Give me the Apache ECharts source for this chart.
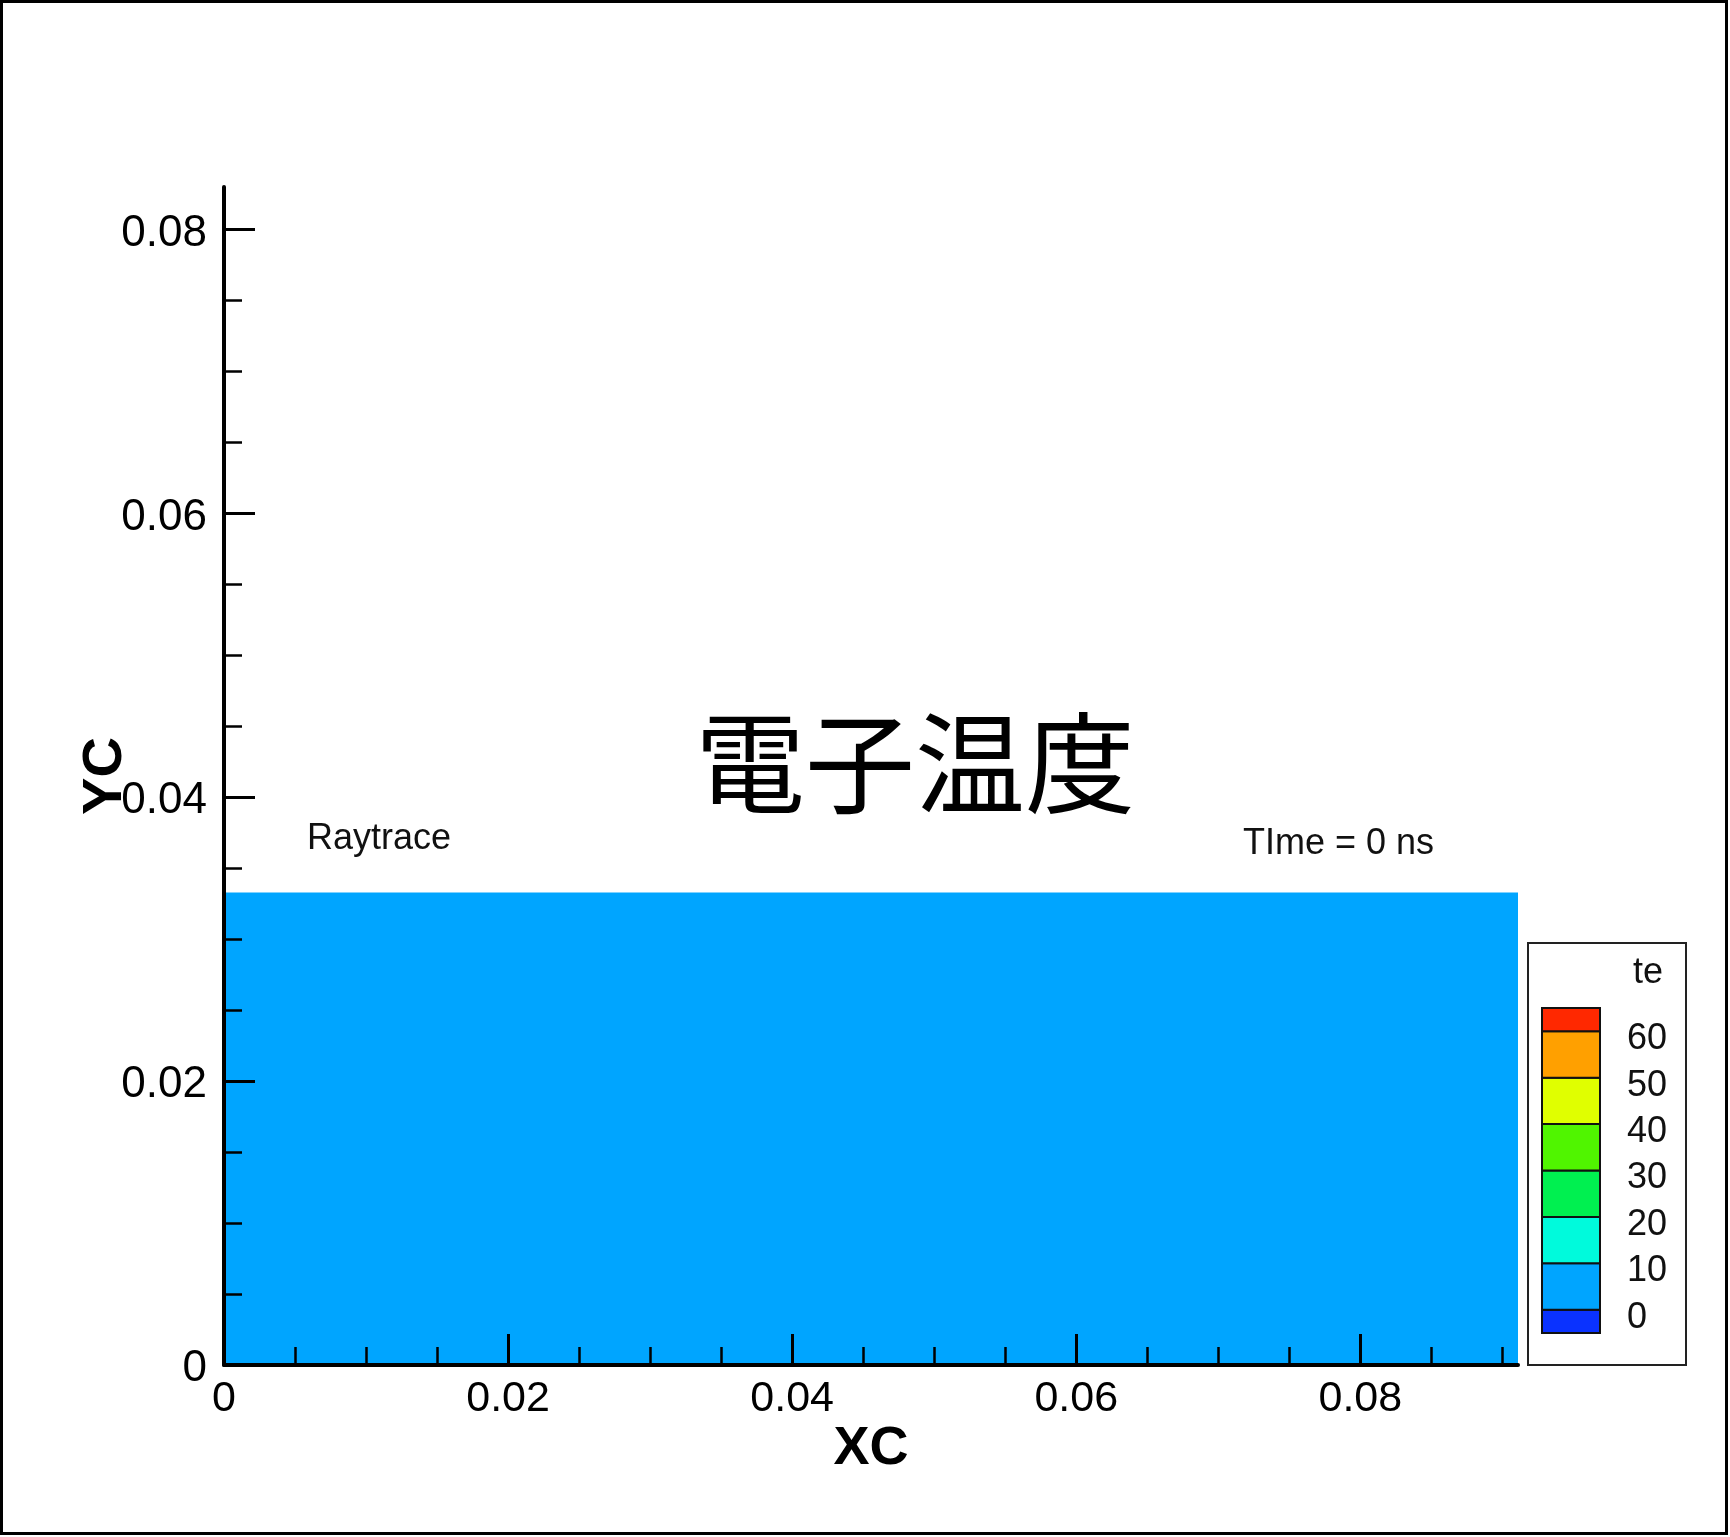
<!DOCTYPE html>
<html>
<head>
<meta charset="utf-8">
<script src="https://cdn.jsdelivr.net/npm/echarts@6/dist/echarts.min.js"></script>
<style>
  html, body { margin: 0; padding: 0; background: #fff; }
  #chart { width: 1730px; height: 1537px; }
</style>
</head>
<body>
<div id="chart"></div>
<script>
// Electron temperature (te) contour, Raytrace run, t = 0 ns
const regionX = [0, 0.0911];          // XC extent of the filled zone
const regionY = [0, 0.0333];          // YC extent of the filled zone
const regionTe = 0.03;                // te inside the zone (falls in the 0–10 band)

const xMajorTicks = [0, 0.02, 0.04, 0.06, 0.08];
const xMinorTicks = [0.005, 0.01, 0.015, 0.025, 0.03, 0.035, 0.045, 0.05, 0.055, 0.065, 0.07, 0.075, 0.085, 0.09];
const yMajorTicks = [0, 0.02, 0.04, 0.06, 0.08];
const yMinorTicks = [0.005, 0.01, 0.015, 0.025, 0.03, 0.035, 0.045, 0.05, 0.055, 0.065, 0.07, 0.075];

const teLevels = [-5, 0, 10, 20, 30, 40, 50, 60, 65];
const teColors = ['#0a32ff', '#00a5ff', '#00fadc', '#00f050', '#50f500', '#e0ff00', '#ffa000', '#ff2800'];
const teLabels = [0, 10, 20, 30, 40, 50, 60];

const FONT = '"Liberation Sans", Arial, sans-serif';

function bandColor(v) {
  for (let i = 0; i < teLevels.length - 1; i++) {
    if (v >= teLevels[i] && v < teLevels[i + 1]) return teColors[i];
  }
  return teColors[teColors.length - 1];
}

const zoneData = [[regionX[0], regionY[0], regionX[1], regionY[1], regionTe]];
const bandData = teColors.map((c, i) => [teLevels[i], teLevels[i + 1], i]);

const chart = echarts.init(document.getElementById('chart'), null, { renderer: 'canvas' });

const majorAxisCommon = {
  type: 'value',
  splitLine: { show: false },
  axisLine: { show: true, lineStyle: { color: '#000', width: 4 } },
  z: 10
};

chart.setOption({
  backgroundColor: '#fff',
  animation: false,
  grid: [
    { left: 224, right: 212, top: 187, bottom: 172, outerBoundsMode: 'none' },
    { left: 1542, width: 58, top: 1008, height: 325, outerBoundsMode: 'none' }
  ],
  xAxis: [
    Object.assign({}, majorAxisCommon, {
      gridIndex: 0, min: 0, max: regionX[1], position: 'bottom',
      axisTick: { show: true, inside: true, length: 31, customValues: xMajorTicks,
                  lineStyle: { color: '#000', width: 3 } },
      axisLabel: { show: true, customValues: xMajorTicks, margin: 13, color: '#000',
                   fontSize: 43, fontFamily: FONT },
      name: 'XC', nameLocation: 'middle', nameGap: 57, nameMoveOverlap: false,
      nameTextStyle: { color: '#000', fontSize: 54, fontWeight: 'bold', fontFamily: FONT }
    }),
    {
      type: 'value', gridIndex: 0, min: 0, max: regionX[1], position: 'bottom', z: 10,
      axisLine: { show: false }, splitLine: { show: false }, axisLabel: { show: false },
      axisTick: { show: true, inside: true, length: 18, customValues: xMinorTicks,
                  lineStyle: { color: '#000', width: 2.5 } }
    },
    { type: 'value', gridIndex: 1, min: 0, max: 1, show: false }
  ],
  yAxis: [
    Object.assign({}, majorAxisCommon, {
      gridIndex: 0, min: 0, max: 0.083, position: 'left',
      axisTick: { show: true, inside: true, length: 31, customValues: yMajorTicks,
                  lineStyle: { color: '#000', width: 3 } },
      axisLabel: { show: true, customValues: yMajorTicks, margin: 17, color: '#000',
                   fontSize: 44, fontFamily: FONT,
                   formatter: '{v|{value}}',
                   rich: { v: { fontSize: 44, fontFamily: FONT, color: '#000', padding: [8, 0, 0, 0] } } },
      name: 'YC', nameLocation: 'middle', nameGap: 90, nameMoveOverlap: false,
      nameTextStyle: { color: '#000', fontSize: 56, fontWeight: 'bold', fontFamily: FONT }
    }),
    {
      type: 'value', gridIndex: 0, min: 0, max: 0.083, position: 'left', z: 10,
      axisLine: { show: false }, splitLine: { show: false }, axisLabel: { show: false },
      axisTick: { show: true, inside: true, length: 18, customValues: yMinorTicks,
                  lineStyle: { color: '#000', width: 2.5 } }
    },
    {
      type: 'value', gridIndex: 1, min: teLevels[0], max: teLevels[teLevels.length - 1],
      position: 'right', splitLine: { show: false },
      axisLine: { show: false }, axisTick: { show: false },
      axisLabel: { show: true, customValues: teLabels, margin: 27, color: '#111',
                   fontSize: 36, fontFamily: FONT,
                   formatter: '{v|{value}}',
                   rich: { v: { fontSize: 36, fontFamily: FONT, color: '#111', padding: [16, 0, 0, 0] } } }
    }
  ],
  series: [
    {
      type: 'custom', xAxisIndex: 0, yAxisIndex: 0, z: 2,
      data: zoneData,
      renderItem: function (params, api) {
        const p0 = api.coord([api.value(0), api.value(1)]);
        const p1 = api.coord([api.value(2), api.value(3)]);
        return {
          type: 'rect',
          shape: { x: p0[0], y: p1[1], width: p1[0] - p0[0], height: p0[1] - p1[1] },
          style: { fill: bandColor(api.value(4)) }
        };
      }
    },
    {
      type: 'custom', xAxisIndex: 2, yAxisIndex: 2, z: 2,
      data: bandData,
      renderItem: function (params, api) {
        const top = api.coord([0, api.value(1)]);
        const bot = api.coord([1, api.value(0)]);
        return {
          type: 'rect',
          shape: { x: top[0], y: top[1], width: bot[0] - top[0], height: bot[1] - top[1] },
          style: { fill: teColors[api.value(2)], stroke: '#111', lineWidth: 2 }
        };
      }
    }
  ],
  graphic: [
    { type: 'rect', silent: true, z: 100,
      shape: { x: 1.5, y: 1.5, width: 1725, height: 1532 },
      style: { fill: null, stroke: '#000', lineWidth: 3 } },
    { type: 'text', silent: true, x: 915, y: 763,
      style: { text: '電子温度', font: '110px "Noto Sans CJK JP"', fill: '#000',
               textAlign: 'center', textVerticalAlign: 'middle' } },
    { type: 'text', silent: true, x: 307, y: 839,
      style: { text: 'Raytrace', font: '36px ' + FONT, fill: '#111',
               textAlign: 'left', textVerticalAlign: 'middle' } },
    { type: 'text', silent: true, x: 1243, y: 844,
      style: { text: 'TIme = 0 ns', font: '36px ' + FONT, fill: '#111',
               textAlign: 'left', textVerticalAlign: 'middle' } },
    { type: 'rect', silent: true,
      shape: { x: 1528, y: 943, width: 158, height: 422 },
      style: { fill: null, stroke: '#222', lineWidth: 2 } },
    { type: 'text', silent: true, x: 1648, y: 973,
      style: { text: 'te', font: '36px ' + FONT, fill: '#111',
               textAlign: 'center', textVerticalAlign: 'middle' } }
  ]
});
</script>
</body>
</html>
